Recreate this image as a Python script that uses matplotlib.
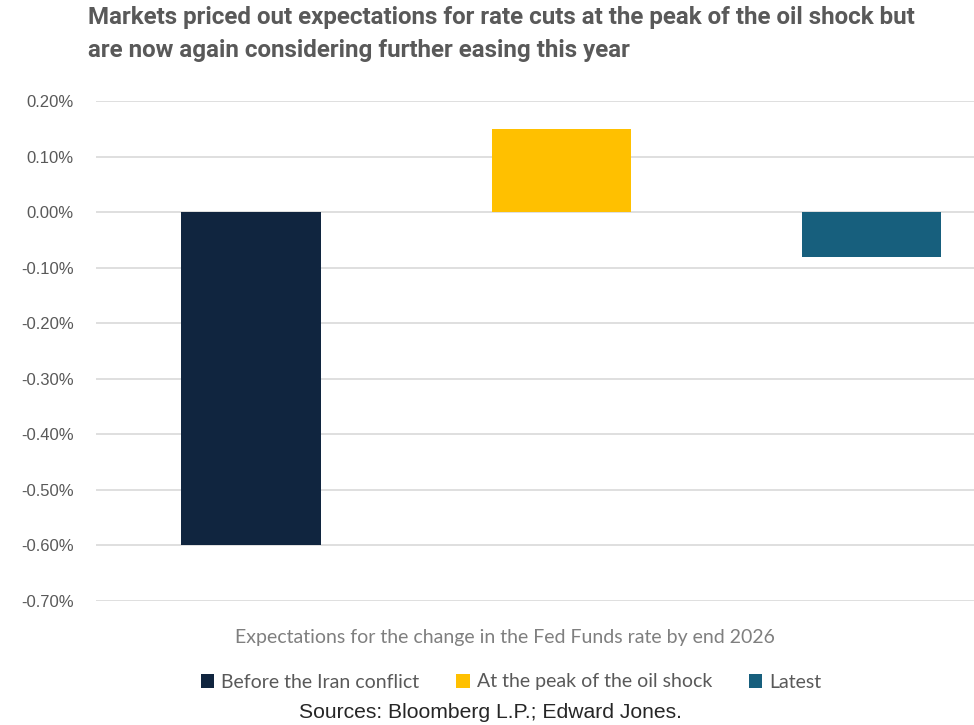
import matplotlib
matplotlib.use('Agg')
import matplotlib.pyplot as plt
from matplotlib.patches import Patch
from matplotlib.ticker import FuncFormatter

categories = ['Before the Iran conflict', 'At the peak of the oil shock', 'Latest']
values = [-0.60, 0.15, -0.08]
colors = ['#10253f', '#ffc000', '#175f7d']
y_ticks = [0.20, 0.10, 0.00, -0.10, -0.20, -0.30, -0.40, -0.50, -0.60, -0.70]

title = ('Markets priced out expectations for rate cuts at the peak of the oil shock but\n'
         'are now again considering further easing this year')
xlabel = 'Expectations for the change in the Fed Funds rate by end 2026'
source = 'Sources: Bloomberg L.P.; Edward Jones.'

W, H = 974, 725
fig = plt.figure(figsize=(W / 100, H / 100), dpi=100)
ax = fig.add_axes([96 / W, 1 - 601 / H, 1 - 96 / W, 500 / H])

x = list(range(len(categories)))
ax.bar(x, values, width=0.45, color=colors, zorder=3)

ax.set_ylim(-0.70, 0.20)
ax.set_xlim(-0.5, 2.33)
ax.set_yticks(y_ticks)
ax.yaxis.set_major_formatter(FuncFormatter(lambda v, p: f'{v:.2f}%'))
ax.set_xticks([])
ax.tick_params(axis='y', length=0, pad=16, labelsize=12, labelcolor='#595959')
for lab in ax.get_yticklabels():
    lab.set_fontfamily('Liberation Sans')
ax.grid(axis='y', color='#d9d9d9', linewidth=1.2, zorder=0)
for s in ax.spines.values():
    s.set_visible(False)

fig.text(88 / W, 1 - 6 / H, title, ha='left', va='top', fontsize=17.4,
         fontweight='bold', color='#595959', linespacing=1.55,
         family='Roboto')

fig.text(505 / W, 1 - 637 / H, xlabel, ha='center', va='center', fontsize=14,
         color='#7f7f7f', family='Lato')

handles = [Patch(facecolor=c, label=l) for c, l in zip(colors, categories)]
leg = fig.legend(handles=handles, loc='center', bbox_to_anchor=(511 / W, 1 - 682 / H),
                 ncol=3, frameon=False, handlelength=0.7, handleheight=0.7,
                 handletextpad=0.35, columnspacing=1.9,
                 prop={'family': 'Lato', 'size': 14})
for t in leg.get_texts():
    t.set_color('#595959')

fig.text(490 / W, 1 - 713 / H, source, ha='center', va='center', fontsize=15.2,
         color='#262626', family='Liberation Sans')

fig.savefig('out.png', dpi=100)
plt.close()
